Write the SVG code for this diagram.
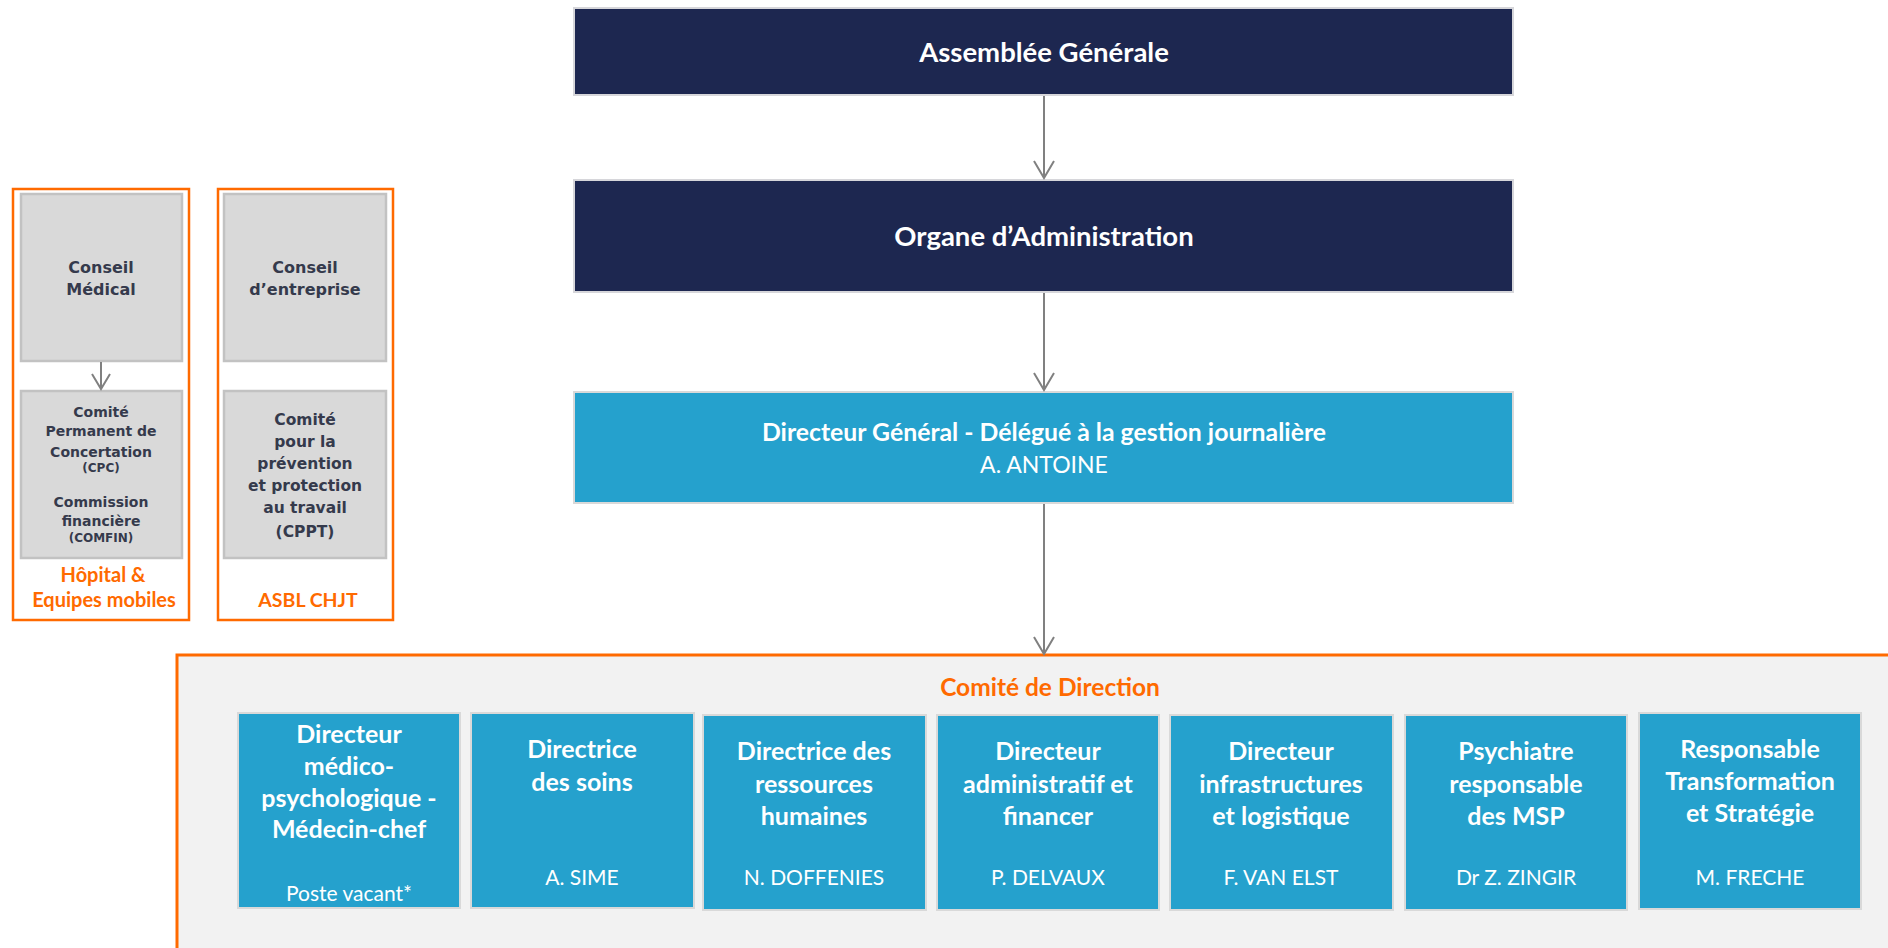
<svg xmlns="http://www.w3.org/2000/svg" width="1888" height="948" viewBox="0 0 1888 948">
<defs>
<style>
.navy{fill:#1d2750;stroke:#d6d6da;stroke-width:2}
.blue{fill:#25a1cd;stroke:#d9d9d9;stroke-width:2}
.gray{fill:#d9d9d9;stroke:#c2c2c2;stroke-width:2.5}
.frame{fill:#ffffff;stroke:#ff6a00;stroke-width:2.5}
.cont{fill:#f2f2f2;stroke:#ff6a00;stroke-width:3}
.conn{stroke:#808080;stroke-width:2;fill:none}
.tw{font-family:Lato,"Liberation Sans",sans-serif;fill:#ffffff;text-anchor:middle}
.b{font-weight:bold}
.tg{font-family:"DejaVu Sans",Verdana,sans-serif;font-weight:bold;fill:#353a4c;text-anchor:middle}
.to{font-family:Lato,"Liberation Sans",sans-serif;font-weight:bold;fill:#ff6a00;text-anchor:middle}
.t24{font-size:25px}
.n21{font-size:21px}
</style>
</defs>
<rect width="1888" height="948" fill="#ffffff"/>

<g id="comite-direction">
<rect class="cont" x="177" y="655" width="1730" height="310"/>
<text class="to" x="1050" y="696" font-size="24.5">Comité de Direction</text>
</g>

<g id="assemblee">
<rect class="navy" x="574" y="8" width="939" height="87"/>
<text class="tw b" x="1044" y="62" font-size="27.5">Assemblée Générale</text>
</g>
<g id="organe">
<rect class="navy" x="574" y="180" width="939" height="112"/>
<text class="tw b" x="1044" y="246" font-size="27.5">Organe d’Administration</text>
</g>
<g id="dg">
<rect class="blue" x="574" y="392" width="939" height="111"/>
<text class="tw b" x="1044" y="441" font-size="24.8">Directeur Général - Délégué à la gestion journalière</text>
<text class="tw" x="1044" y="473" font-size="23">A. ANTOINE</text>
</g>

<g id="hopital">
<rect class="frame" x="13" y="189" width="176" height="431"/>
<text class="to" x="103" y="582" font-size="20">Hôpital &amp;</text>
<text class="to" x="104" y="607" font-size="20">Equipes mobiles</text>
</g>
<g id="conseil-medical">
<rect class="gray" x="21" y="194" width="161" height="167"/>
<text class="tg" x="101" y="273" font-size="16">Conseil</text>
<text class="tg" x="101" y="295" font-size="16">Médical</text>
</g>
<g id="cpc">
<rect class="gray" x="21" y="391" width="161" height="167"/>
<text class="tg" x="101" y="417" font-size="14">Comité</text>
<text class="tg" x="101" y="436" font-size="14">Permanent de</text>
<text class="tg" x="101" y="457" font-size="14">Concertation</text>
<text class="tg" x="101" y="472" font-size="12">(CPC)</text>
<text class="tg" x="101" y="507" font-size="14">Commission</text>
<text class="tg" x="101" y="526" font-size="14">financière</text>
<text class="tg" x="101" y="542" font-size="12">(COMFIN)</text>
</g>

<g id="asbl">
<rect class="frame" x="218" y="189" width="175" height="431"/>
<text class="to" x="308" y="607" font-size="19.5">ASBL CHJT</text>
</g>
<g id="conseil-entreprise">
<rect class="gray" x="224" y="194" width="162" height="167"/>
<text class="tg" x="305" y="273" font-size="16">Conseil</text>
<text class="tg" x="305" y="295" font-size="16">d’entreprise</text>
</g>
<g id="cppt">
<rect class="gray" x="224" y="391" width="162" height="167"/>
<text class="tg" x="305" y="425" font-size="15.5">Comité</text>
<text class="tg" x="305" y="447" font-size="15.5">pour la</text>
<text class="tg" x="305" y="469" font-size="15.5">prévention</text>
<text class="tg" x="305" y="491" font-size="15.5">et protection</text>
<text class="tg" x="305" y="513" font-size="15.5">au travail</text>
<text class="tg" x="305" y="537" font-size="15.5">(CPPT)</text>
</g>

<g id="dir-medical">
<rect class="blue" x="238" y="713" width="222" height="195"/>
<text class="tw b t24" x="349" y="743">Directeur</text>
<text class="tw b t24" x="349" y="775">médico-</text>
<text class="tw b t24" x="349" y="807">psychologique -</text>
<text class="tw b t24" x="349" y="838">Médecin-chef</text>
<text class="tw n21" x="349" y="901">Poste vacant*</text>
</g>
<g id="dir-soins">
<rect class="blue" x="471" y="713" width="223" height="195"/>
<text class="tw b t24" x="582" y="758">Directrice</text>
<text class="tw b t24" x="582" y="791">des soins</text>
<text class="tw n21" x="582" y="885">A. SIME</text>
</g>
<g id="dir-rh">
<rect class="blue" x="703" y="715" width="223" height="195"/>
<text class="tw b t24" x="814" y="760">Directrice des</text>
<text class="tw b t24" x="814" y="793">ressources</text>
<text class="tw b t24" x="814" y="825">humaines</text>
<text class="tw n21" x="814" y="885">N. DOFFENIES</text>
</g>
<g id="dir-admin">
<rect class="blue" x="937" y="715" width="222" height="195"/>
<text class="tw b t24" x="1048" y="760">Directeur</text>
<text class="tw b t24" x="1048" y="793">administratif et</text>
<text class="tw b t24" x="1048" y="825">financer</text>
<text class="tw n21" x="1048" y="885">P. DELVAUX</text>
</g>
<g id="dir-infra">
<rect class="blue" x="1170" y="715" width="223" height="195"/>
<text class="tw b t24" x="1281" y="760">Directeur</text>
<text class="tw b t24" x="1281" y="793">infrastructures</text>
<text class="tw b t24" x="1281" y="825">et logistique</text>
<text class="tw n21" x="1281" y="885">F. VAN ELST</text>
</g>
<g id="psychiatre">
<rect class="blue" x="1405" y="715" width="222" height="195"/>
<text class="tw b t24" x="1516" y="760">Psychiatre</text>
<text class="tw b t24" x="1516" y="793">responsable</text>
<text class="tw b t24" x="1516" y="825">des MSP</text>
<text class="tw n21" x="1516" y="885">Dr Z. ZINGIR</text>
</g>
<g id="resp-transfo">
<rect class="blue" x="1639" y="713" width="222" height="196"/>
<text class="tw b t24" x="1750" y="758">Responsable</text>
<text class="tw b t24" x="1750" y="790">Transformation</text>
<text class="tw b t24" x="1750" y="822">et Stratégie</text>
<text class="tw n21" x="1750" y="885">M. FRECHE</text>
</g>

<g id="connectors" class="conn">
<path d="M1044 96 V178 M1034 161 L1044 178 L1054 161"/>
<path d="M1044 293 V390 M1034 373 L1044 390 L1054 373"/>
<path d="M1044 504 V654 M1034 637 L1044 654 L1054 637"/>
<path d="M101 362 V389 M92 374 L101 389 L110 374"/>
</g>
</svg>
